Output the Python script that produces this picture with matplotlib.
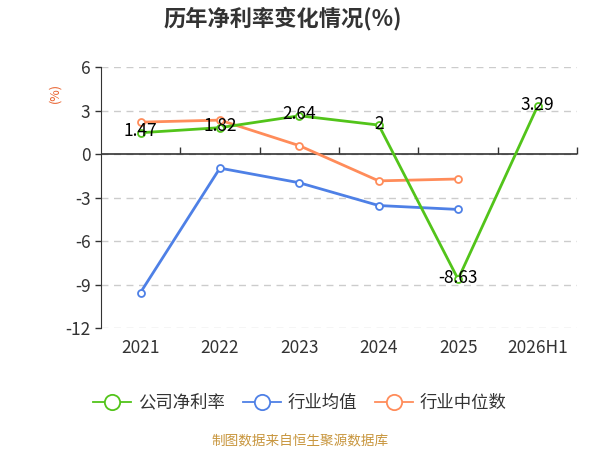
import numpy as np
from matplotlib import pyplot as plt

plt.rcParams['font.family'] = ['Noto Sans CJK SC', 'DejaVu Sans']

years = ['2021', '2022', '2023', '2024', '2025', '2026H1']
company = [1.47, 1.82, 2.64, 2, -8.63, 3.29]
industry_mean = [-9.55, -0.97, -1.98, -3.55, -3.82]
industry_median = [2.2, 2.34, 0.58, -1.85, -1.72]

green = '#52c41a'
blue = '#4e80e6'
orange = '#ff8c5a'

fig = plt.figure(figsize=(6, 4.5), dpi=100)
ax = fig.add_axes([0.168, 0.271, 0.794, 0.58])

x = np.arange(len(years))
mk = dict(marker='o', markersize=5, markerfacecolor='white', markeredgewidth=1.3)
ax.plot(x[:len(industry_mean)], industry_mean, color=blue, lw=2, label='行业均值', **mk, zorder=3)
ax.plot(x[:len(industry_median)], industry_median, color=orange, lw=2, label='行业中位数', **mk, zorder=3)
ax.plot(x, company, color=green, lw=2, label='公司净利率', **mk, zorder=4)

for xi, v in zip(x, company):
    ax.text(xi, v + 0.1, f'{v:g}', ha='center', va='center', fontsize=12.5, color='black', zorder=5)

ax.set_xlim(-0.5, len(years) - 0.5)
ax.set_ylim(-12, 6)
ax.set_yticks(np.arange(-12, 7, 3))
ax.set_yticklabels([str(v) for v in np.arange(-12, 7, 3)])
ax.yaxis.grid(True, linestyle=(0, (5, 4)), color='#cccccc', lw=1)
ax.set_axisbelow(True)
for s in ['top', 'right', 'bottom']:
    ax.spines[s].set_visible(False)
ax.spines['left'].set_color('#333333')
ax.tick_params(axis='y', colors='#333333', labelsize=12.5, length=4, width=1)
ax.tick_params(axis='x', length=0, labelsize=12.5, colors='#333333', pad=8)
ax.set_xticks(x)
ax.set_xticklabels(years)

# axis line at zero with boundary ticks
ax.axhline(0, color='#333333', lw=1.2, zorder=2)
zero_frac = (0 - (-12)) / 18
sec = ax.secondary_xaxis(zero_frac)
sec.set_xticks(np.arange(0.5, len(years), 1))
sec.set_xticklabels([])
sec.tick_params(direction='out', length=5, width=1, colors='#333333')
for s in sec.spines.values():
    s.set_visible(False)

fig.text(0.092, 0.793, '(%)', rotation=90, color='#e8602c', fontsize=9, ha='center', va='center')
fig.text(0.472, 0.96, '历年净利率变化情况(%)', fontsize=16, fontweight='bold', ha='center', va='center', color='#333333')

handles, labels = ax.get_legend_handles_labels()
order = [2, 0, 1]
leg = fig.legend([handles[i] for i in order], [labels[i] for i in order], loc='center',
                 bbox_to_anchor=(0.5, 0.105), ncol=3, frameon=False, fontsize=12.5,
                 markerscale=2.2, handlelength=2.2, columnspacing=1.0, handletextpad=0.4)
for t in leg.get_texts():
    t.set_color('#333333')
for h in leg.legend_handles:
    h.set_linewidth(1.3)

fig.text(0.5, 0.02, '制图数据来自恒生聚源数据库', fontsize=9.8, color='#c8963e', ha='center', va='center')

fig.savefig('out.png', dpi=100)
